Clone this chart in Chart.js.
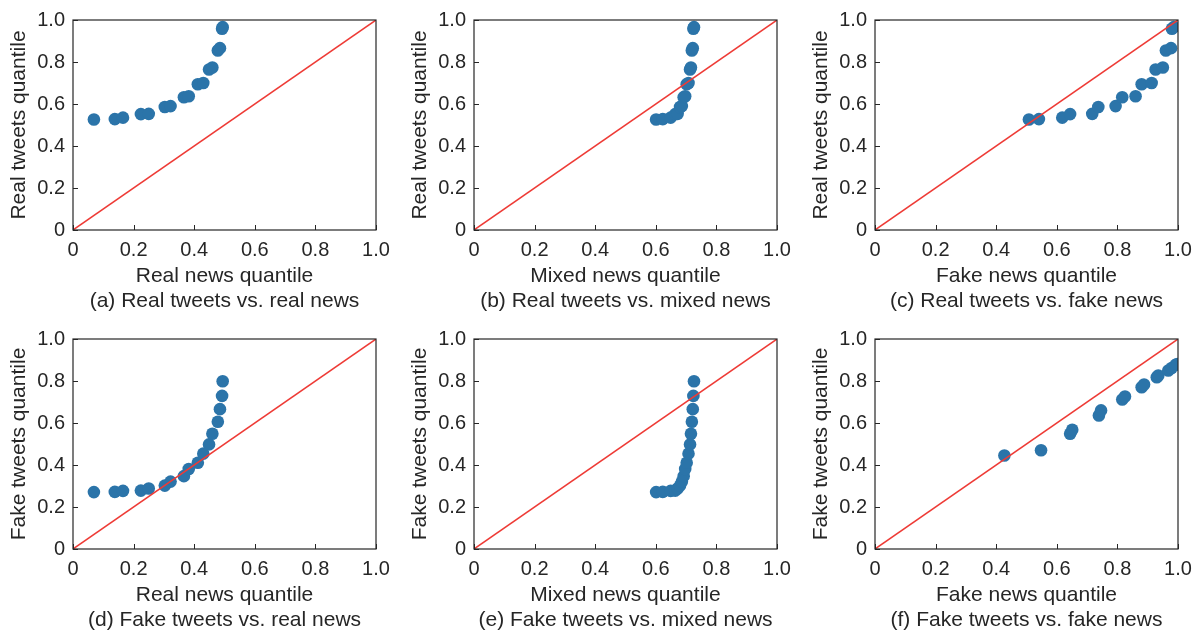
<!DOCTYPE html>
<html>
<head>
<meta charset="utf-8">
<script src="https://cdn.jsdelivr.net/npm/chart.js@4/dist/chart.umd.min.js"></script>
<style>
  html, body { margin: 0; padding: 0; background: #fff; overflow: hidden; }
  body { width: 1199px; height: 630px; position: relative; }
  .panel { position: absolute; width: 400px; height: 319px; }
  canvas { display: block; }
</style>
</head>
<body>
<div class="panel" style="left:0;top:0"><canvas id="chartA" width="400" height="319"></canvas></div>
<div class="panel" style="left:401px;top:0"><canvas id="chartB" width="400" height="319"></canvas></div>
<div class="panel" style="left:802px;top:0"><canvas id="chartC" width="400" height="319"></canvas></div>
<div class="panel" style="left:0;top:319px"><canvas id="chartD" width="400" height="319"></canvas></div>
<div class="panel" style="left:401px;top:319px"><canvas id="chartE" width="400" height="319"></canvas></div>
<div class="panel" style="left:802px;top:319px"><canvas id="chartF" width="400" height="319"></canvas></div>
<script>
// quantile values
const realNewsQ = [0.069, 0.138, 0.165, 0.224, 0.250, 0.303, 0.322, 0.366, 0.382, 0.412, 0.430, 0.449, 0.460, 0.478, 0.485, 0.492, 0.494];
const mixedNewsQ = [0.601, 0.623, 0.649, 0.664, 0.672, 0.680, 0.686, 0.692, 0.697, 0.702, 0.708, 0.713, 0.716, 0.719, 0.722, 0.724, 0.726];
const fakeNewsQ = [0.508, 0.541, 0.618, 0.644, 0.717, 0.737, 0.794, 0.816, 0.860, 0.880, 0.913, 0.926, 0.950, 0.960, 0.977, 0.980, 0.986];
const realTweetsQ = [0.526, 0.528, 0.535, 0.552, 0.553, 0.586, 0.590, 0.632, 0.637, 0.694, 0.700, 0.764, 0.774, 0.855, 0.866, 0.958, 0.966];
const fakeTweetsQ = [0.271, 0.272, 0.277, 0.278, 0.288, 0.302, 0.321, 0.347, 0.381, 0.411, 0.454, 0.498, 0.549, 0.606, 0.666, 0.729, 0.799];
// panel (f) uses its own quantile set
const fakeNewsQ2 = [0.427, 0.548, 0.644, 0.651, 0.739, 0.746, 0.816, 0.825, 0.880, 0.888, 0.930, 0.935, 0.968, 0.979, 0.992, 0.998];
const fakeTweetsQ2 = [0.445, 0.470, 0.549, 0.568, 0.636, 0.660, 0.712, 0.726, 0.770, 0.783, 0.818, 0.826, 0.850, 0.862, 0.877, 0.881];

const tickValues = [0, 0.2, 0.4, 0.6, 0.8, 1.0];
const diagonal = [0, 1];

const FONT = "'Liberation Sans', Arial, Helvetica, sans-serif";
const TEXT = '#262626';
const FRAME = '#262626';

// frame on all four sides plus small inward ticks
const framePlugin = {
  id: 'frame',
  afterDatasetsDraw(chart) {
    const { ctx, chartArea: a, scales } = chart;
    ctx.save();
    ctx.strokeStyle = FRAME;
    ctx.lineWidth = 1.2;
    ctx.strokeRect(a.left, a.top, a.right - a.left, a.bottom - a.top);
    ctx.lineWidth = 1;
    ctx.beginPath();
    tickValues.forEach(v => {
      const x = Math.round(scales.x.getPixelForValue(v)) + 0.5;
      ctx.moveTo(x, a.bottom);
      ctx.lineTo(x, a.bottom - 5);
      const y = Math.round(scales.y.getPixelForValue(v)) + 0.5;
      ctx.moveTo(a.left, y);
      ctx.lineTo(a.left + 5, y);
    });
    ctx.stroke();
    ctx.restore();
  }
};

function makePanel(id, xs, ys, xTitle, yTitle, caption) {
  const pts = xs.map((x, i) => ({ x: x, y: ys[i] }));
  const ctx = document.getElementById(id).getContext('2d');
  return new Chart(ctx, {
    type: 'scatter',
    data: {
      datasets: [{
        type: 'line',
        data: diagonal.map(v => ({ x: v, y: v })),
        borderColor: '#ee3b36',
        borderWidth: 1.5,
        pointRadius: 0,
        showLine: true,
        clip: 0
      }, {
        data: pts,
        backgroundColor: '#2b74a9',
        borderWidth: 0,
        pointRadius: 6.3,
        pointHoverRadius: 6.3,
        clip: 0
      }]
    },
    options: {
      responsive: false,
      animation: false,
      devicePixelRatio: 1,
      layout: { padding: { top: 19, right: 24, left: 0, bottom: 0 } },
      plugins: { legend: { display: false }, tooltip: { enabled: false } },
      scales: {
        x: {
          type: 'linear', min: 0, max: 1,
          afterBuildTicks: s => { s.ticks = tickValues.map(v => ({ value: v })); },
          afterFit: s => { s.height = 89; },
          grid: { display: false, drawTicks: false },
          border: { display: false },
          ticks: {
            autoSkip: false, maxRotation: 0, padding: 8, color: TEXT,
            font: { family: FONT, size: 20 },
            callback: v => v === 0 ? '0' : v.toFixed(1)
          },
          title: {
            display: true, text: [xTitle, caption], color: TEXT,
            font: { family: FONT, size: 21, lineHeight: 1.2 },
            padding: { top: 0, bottom: 5 }
          }
        },
        y: {
          type: 'linear', min: 0, max: 1,
          afterBuildTicks: s => { s.ticks = tickValues.map(v => ({ value: v })); },
          afterFit: s => { s.width = 73; },
          grid: { display: false, drawTicks: false },
          border: { display: false },
          ticks: {
            autoSkip: false, padding: 8, color: TEXT,
            font: { family: FONT, size: 20 },
            callback: v => v === 0 ? '0' : v.toFixed(1)
          },
          title: {
            display: true, text: yTitle, color: TEXT,
            font: { family: FONT, size: 21, lineHeight: 1.2 },
            padding: { top: 7, bottom: 0 }
          }
        }
      }
    },
    plugins: [framePlugin]
  });
}

document.addEventListener('DOMContentLoaded', function() {
  makePanel('chartA', realNewsQ, realTweetsQ, 'Real news quantile', 'Real tweets quantile', '(a) Real tweets vs. real news');
  makePanel('chartB', mixedNewsQ, realTweetsQ, 'Mixed news quantile', 'Real tweets quantile', '(b) Real tweets vs. mixed news');
  makePanel('chartC', fakeNewsQ, realTweetsQ, 'Fake news quantile', 'Real tweets quantile', '(c) Real tweets vs. fake news');
  makePanel('chartD', realNewsQ, fakeTweetsQ, 'Real news quantile', 'Fake tweets quantile', '(d) Fake tweets vs. real news');
  makePanel('chartE', mixedNewsQ, fakeTweetsQ, 'Mixed news quantile', 'Fake tweets quantile', '(e) Fake tweets vs. mixed news');
  makePanel('chartF', fakeNewsQ2, fakeTweetsQ2, 'Fake news quantile', 'Fake tweets quantile', '(f) Fake tweets vs. fake news');
});
</script>
</body>
</html>
